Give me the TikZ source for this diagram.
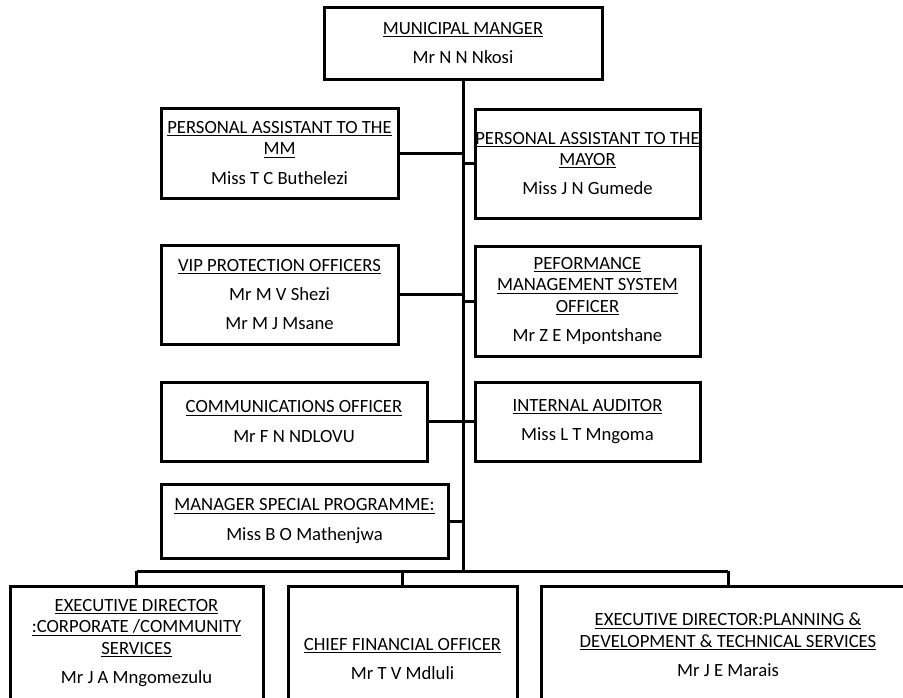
\documentclass[tikz,border=0pt]{standalone}
\usepackage{fontspec}
\setmainfont{Carlito}
\usetikzlibrary{shadows}

\newcommand{\ttl}[1]{\underline{#1}}

\begin{document}
\begin{tikzpicture}[x=0.75pt,y=0.75pt,yscale=-1,xscale=1,
  post/.style={draw, line width=2.25pt, fill=white, align=center, inner sep=0pt,
    font=\fontsize{14}{16}\selectfont,
    drop shadow={shadow xshift=1.2pt, shadow yshift=-1.2pt, opacity=0.25}},
  link/.style={line width=2.25pt}]
%set diagram size 903 x 697
\useasboundingbox (0,0) rectangle (903,697);
\clip (0,0) rectangle (903,697);

% Text Node
\node[post, minimum width=208.5pt, minimum height=54pt] (mm) at (463,43)
  {\ttl{MUNICIPAL MANGER}\\[6pt]Mr N N Nkosi};
% Text Node
\node[post, minimum width=177.75pt, minimum height=67.5pt] (pamm) at (279.5,153)
  {\ttl{PERSONAL ASSISTANT TO THE}\\\ttl{MM}\\[6pt]Miss T C Buthelezi};
% Text Node
\node[post, minimum width=168.75pt, minimum height=81.75pt] (pamayor) at (587.5,163.5)
  {\ttl{PERSONAL ASSISTANT TO THE}\\\ttl{MAYOR}\\[6pt]Miss J N Gumede};
% Text Node
\node[post, minimum width=177.75pt, minimum height=74.25pt] (vip) at (279.5,294.5)
  {\ttl{VIP PROTECTION OFFICERS}\\[6pt]Mr M V Shezi\\[6pt]Mr M J Msane};
% Text Node
\node[post, minimum width=168.75pt, minimum height=82.5pt] (pms) at (587.5,301)
  {\ttl{PEFORMANCE}\\\ttl{MANAGEMENT SYSTEM}\\\ttl{OFFICER}\\[6pt]Mr Z E Mpontshane};
% Text Node
\node[post, minimum width=199.5pt, minimum height=59.25pt] (comm) at (294,421.5)
  {\ttl{COMMUNICATIONS OFFICER}\\[6pt]Mr F N NDLOVU};
% Text Node
\node[post, minimum width=168.75pt, minimum height=59.25pt] (audit) at (587.5,421.5)
  {\ttl{INTERNAL AUDITOR}\\[6pt]Miss L T Mngoma};
% Text Node
\node[post, minimum width=215.25pt, minimum height=55.5pt] (msp) at (304.5,521)
  {\ttl{MANAGER SPECIAL PROGRAMME:}\\[6pt]Miss B O Mathenjwa};
% Text Node
\node[post, minimum width=189.75pt, minimum height=85.5pt] (edcorp) at (136.5,643)
  {\ttl{EXECUTIVE DIRECTOR}\\\ttl{:CORPORATE /COMMUNITY}\\\ttl{SERVICES}\\[6pt]Mr J A Mngomezulu};
% Text Node
\node[post, minimum width=171.75pt, minimum height=109.5pt] (cfo) at (402.5,659)
  {\ttl{CHIEF FINANCIAL OFFICER}\\[6pt]Mr T V Mdluli};
% Text Node
\node[post, minimum width=280.5pt, minimum height=88.5pt] (edplan) at (728,645)
  {\ttl{EXECUTIVE DIRECTOR:PLANNING \&}\\\ttl{DEVELOPMENT \& TECHNICAL SERVICES}\\[6pt]Mr J E Marais};

\coordinate (bus) at (463,571);

%Straight Lines
\draw[link] (mm.south) -- (bus);
\draw[link] (edcorp.north |- bus) -- (edplan.north |- bus);
\draw[link] (edcorp.north |- bus) -- (edcorp.north);
\draw[link] (cfo.north |- bus) -- (cfo.north);
\draw[link] (edplan.north |- bus) -- (edplan.north);

%Straight Lines
\draw[link] (pamm.east) -- (pamm.east -| bus);
\draw[link] (vip.east) -- (vip.east -| bus);
\draw[link] (comm.east) -- (comm.east -| bus);
\draw[link] (msp.east) -- (msp.east -| bus);
\draw[link] (pamayor.west) -- (pamayor.west -| bus);
\draw[link] (pms.west) -- (pms.west -| bus);
\draw[link] (audit.west) -- (audit.west -| bus);

\end{tikzpicture}
\end{document}
